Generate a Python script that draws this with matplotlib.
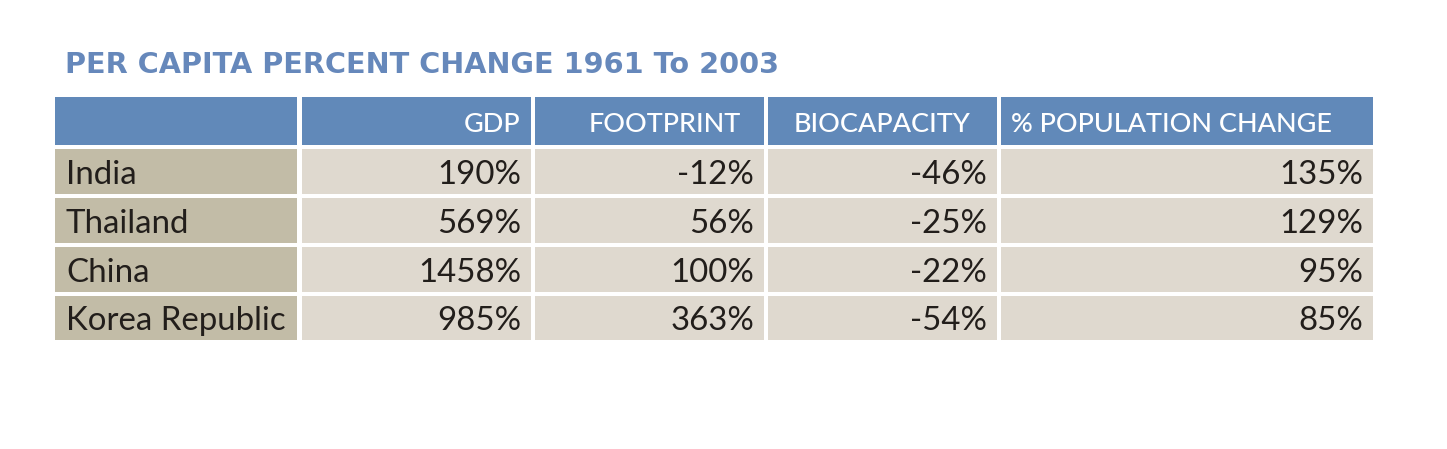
import matplotlib.pyplot as plt
from matplotlib.patches import Rectangle

# ============================================================
# Data
# ============================================================
TITLE = "PER CAPITA PERCENT CHANGE 1961 To 2003"
HEADERS = ["", "GDP", "FOOTPRINT", "BIOCAPACITY", "% POPULATION CHANGE"]
COUNTRIES = ["India", "Thailand", "China", "Korea Republic"]
GDP = [190, 569, 1458, 985]
FOOTPRINT = [-12, 56, 100, 363]
BIOCAPACITY = [-46, -25, -22, -54]
POPULATION = [135, 129, 95, 85]

# ============================================================
# Layout (pixels)
# ============================================================
W, H = 1447, 449
COL_LEFT = [55, 302, 535, 768, 1001]
COL_RIGHT = [297, 531, 764, 997, 1373]
ROW_TOP = [97, 149, 198, 247, 296]
ROW_BOT = [145, 194, 243, 292, 340]
# header label anchor (x, ha) per column
HEAD_POS = [None, (520, "right"), (741, "right"), (971, "right"), (1011, "left")]

BLUE = "#6189b9"
TITLE_BLUE = "#6688bb"
KHAKI = "#c2bca7"
CELL = "#dfd9cf"
INK = "#221e1b"
FONT = "Lato"


def px(v):
    # pixel size -> points at dpi 100
    return v * 0.72


def main():
    fig = plt.figure(figsize=(W / 100, H / 100), dpi=100)
    ax = fig.add_axes([0, 0, 1, 1])
    ax.set_xlim(0, W)
    ax.set_ylim(H, 0)
    ax.axis("off")

    ax.text(65, 73, TITLE, color=TITLE_BLUE, fontsize=px(28.7),
            fontweight="bold", family="DejaVu Sans", va="baseline", ha="left")

    # header row
    for c, label in enumerate(HEADERS):
        ax.add_patch(Rectangle((COL_LEFT[c], ROW_TOP[0]),
                               COL_RIGHT[c] - COL_LEFT[c],
                               ROW_BOT[0] - ROW_TOP[0],
                               facecolor=BLUE, edgecolor="none"))
        if not label:
            continue
        x, ha = HEAD_POS[c]
        ax.text(x, 132, label, color="white", fontsize=px(27),
                fontweight="medium", family=FONT, va="baseline", ha=ha)

    columns = [GDP, FOOTPRINT, BIOCAPACITY, POPULATION]
    for r, country in enumerate(COUNTRIES):
        top = ROW_TOP[r + 1]
        bot = ROW_BOT[r + 1]
        base = bot - 10
        ax.add_patch(Rectangle((COL_LEFT[0], top), COL_RIGHT[0] - COL_LEFT[0],
                               bot - top, facecolor=KHAKI, edgecolor="none"))
        ax.text(COL_LEFT[0] + 11, base, country, color=INK, fontsize=px(33),
                family=FONT, va="baseline", ha="left")
        for c, vals in enumerate(columns, start=1):
            ax.add_patch(Rectangle((COL_LEFT[c], top), COL_RIGHT[c] - COL_LEFT[c],
                                   bot - top, facecolor=CELL, edgecolor="none"))
            ax.text(COL_RIGHT[c] - 10, base, f"{vals[r]}%", color=INK,
                    fontsize=px(33), family=FONT, va="baseline", ha="right")

    fig.savefig("out.png", dpi=100, facecolor="white")
    plt.close(fig)


if __name__ == "__main__":
    main()
